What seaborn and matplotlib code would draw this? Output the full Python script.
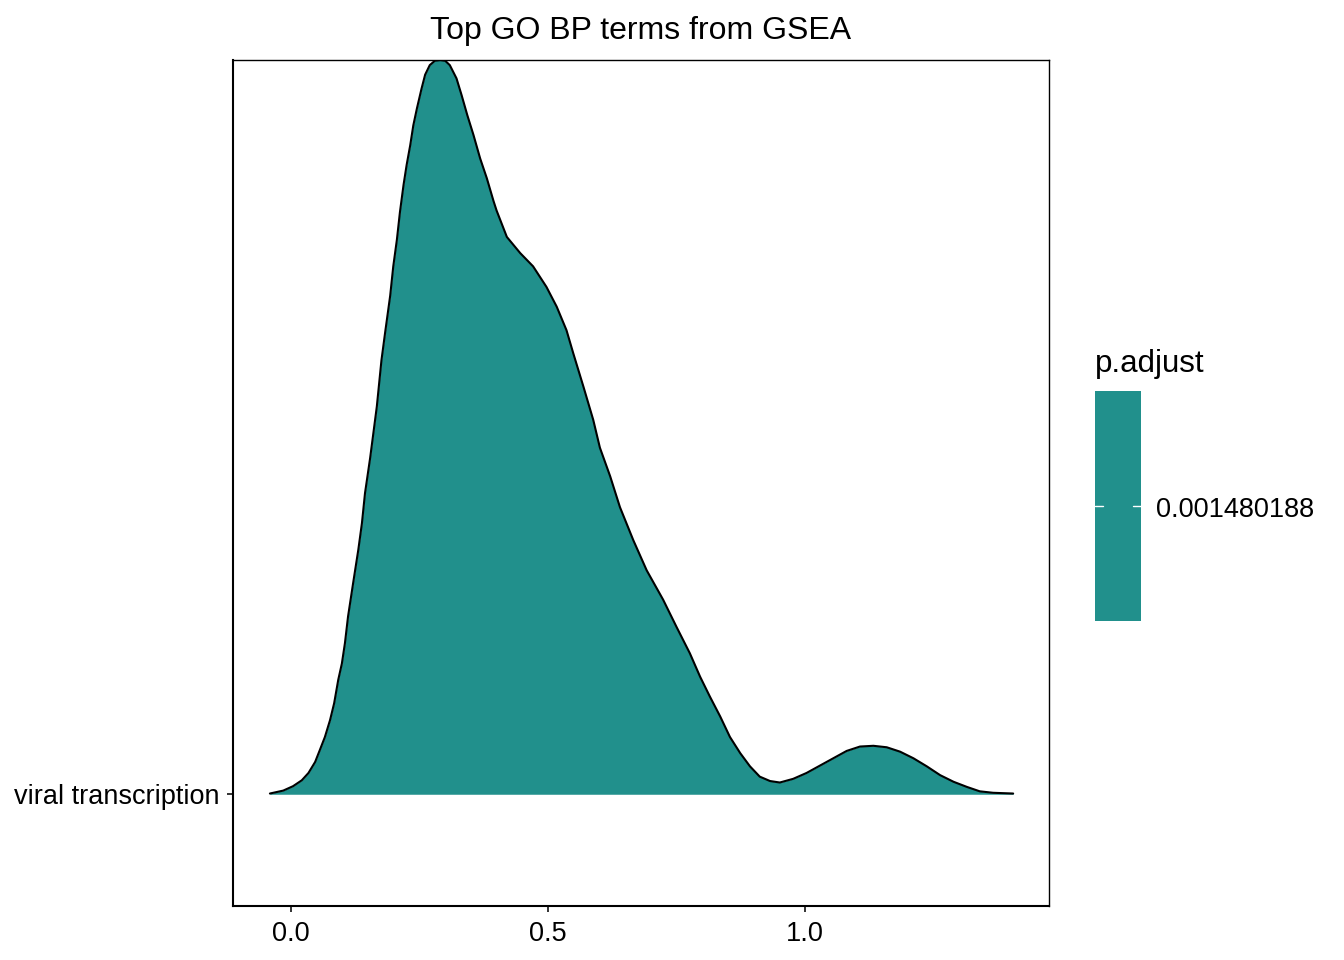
import matplotlib
matplotlib.use("Agg")
import matplotlib.pyplot as plt
import seaborn as sns
import numpy as np
import pandas as pd

# ---- data ----
term = "viral transcription"
p_adjust_label = "0.001480188"
fill_color = "#21908C"
title = "Top GO BP terms from GSEA"
xticks = [0.0, 0.5, 1.0]
xtick_labels = ["0.0", "0.5", "1.0"]

# density curve of the core-enrichment values (x) and its scaled height (y)
dens_x = [-0.041, -0.015, 0.004, 0.021, 0.034, 0.047, 0.056, 0.066, 0.076, 0.084,
          0.092, 0.099, 0.105, 0.111, 0.121, 0.131, 0.138, 0.144, 0.154, 0.167,
          0.176, 0.183, 0.193, 0.199, 0.206, 0.212, 0.219, 0.225, 0.232, 0.238,
          0.245, 0.254, 0.261, 0.270, 0.280, 0.290, 0.300, 0.309, 0.322, 0.332,
          0.343, 0.355, 0.368, 0.381, 0.394, 0.400, 0.420, 0.446, 0.471, 0.497,
          0.517, 0.536, 0.549, 0.569, 0.588, 0.601, 0.621, 0.640, 0.666, 0.692,
          0.724, 0.750, 0.776, 0.796, 0.815, 0.835, 0.854, 0.874, 0.893, 0.912,
          0.932, 0.951, 0.977, 1.003, 1.029, 1.055, 1.081, 1.107, 1.133, 1.159,
          1.185, 1.211, 1.237, 1.263, 1.289, 1.315, 1.340, 1.366, 1.405]
dens_y = [0.001, 0.005, 0.011, 0.019, 0.029, 0.044, 0.060, 0.078, 0.101, 0.124,
          0.156, 0.178, 0.206, 0.242, 0.288, 0.333, 0.369, 0.410, 0.458, 0.528,
          0.591, 0.628, 0.679, 0.719, 0.755, 0.793, 0.830, 0.857, 0.884, 0.911,
          0.934, 0.961, 0.980, 0.993, 0.999, 1.000, 0.999, 0.993, 0.975, 0.952,
          0.925, 0.898, 0.866, 0.839, 0.808, 0.795, 0.759, 0.737, 0.719, 0.691,
          0.664, 0.632, 0.601, 0.555, 0.510, 0.472, 0.433, 0.391, 0.346, 0.305,
          0.265, 0.228, 0.192, 0.160, 0.133, 0.106, 0.078, 0.056, 0.038, 0.024,
          0.018, 0.016, 0.021, 0.029, 0.039, 0.049, 0.059, 0.065, 0.066, 0.064,
          0.058, 0.049, 0.038, 0.026, 0.017, 0.010, 0.004, 0.002, 0.001]

df = pd.DataFrame({"x": dens_x, "density": dens_y})

sns.set_theme(style="white")
plt.rcParams["font.family"] = ["Liberation Sans", "DejaVu Sans"]

W, H = 1344, 960
fig = plt.figure(figsize=(W / 100, H / 100), dpi=100)

L, R, T, B = 233, 1049, 60, 905.5
ax = fig.add_axes([L / W, 1 - B / H, (R - L) / W, (B - T) / H])

ax.fill_between(df["x"], 0, df["density"], color=fill_color, linewidth=0, zorder=2)
sns.lineplot(data=df, x="x", y="density", ax=ax, color="black", linewidth=1.5,
             sort=False, estimator=None, zorder=3)
for ln in ax.lines:
    ln.set_solid_joinstyle("round")

ax.set_xlim(-0.1128, 1.4747)
ax.set_ylim(-0.1515, 1.0)
ax.set_xticks(xticks)
ax.set_xticklabels(xtick_labels)
ax.set_yticks([0])
ax.set_yticklabels([term])
ax.set_xlabel("")
ax.set_ylabel("")
ax.tick_params(axis="both", which="both", direction="out", length=4.5, width=1.4,
               color="#333333", labelsize=19.5, labelcolor="black",
               bottom=True, left=True, top=False, right=False)
ax.tick_params(axis="x", pad=6.5)
ax.tick_params(axis="y", pad=5.5)
for side in ["left", "bottom"]:
    ax.spines[side].set_linewidth(1.5)
    ax.spines[side].set_color("black")
for side in ["top", "right"]:
    ax.spines[side].set_linewidth(1.0)
    ax.spines[side].set_color("black")
ax.set_facecolor("white")

fig.text(641 / W, 1 - 39.3 / H, title, ha="center", va="baseline", fontsize=23,
         color="black")

# ---- legend (single-colour colour bar) ----
lx0, lx1, ly0, ly1 = 1095, 1141, 391, 620.7
lax = fig.add_axes([lx0 / W, 1 - ly1 / H, (lx1 - lx0) / W, (ly1 - ly0) / H])
lax.set_facecolor(fill_color)
for s in lax.spines.values():
    s.set_visible(False)
lax.set_xticks([])
lax.set_yticks([])
lax.set_xlim(0, 1)
lax.set_ylim(0, 1)
tick_y = 1 - (505.5 - ly0) / (ly1 - ly0)
lax.plot([0, 0.17], [tick_y, tick_y], color="white", lw=1.0)
lax.plot([0.83, 1.0], [tick_y, tick_y], color="white", lw=1.0)

fig.text(1095 / W, 1 - 372 / H, "p.adjust", ha="left", va="baseline", fontsize=22.5,
         color="black")
fig.text(1156 / W, 1 - 507 / H, p_adjust_label, ha="left", va="center_baseline",
         fontsize=19.5, color="black")

fig.savefig("out.png", dpi=100, facecolor="white")
